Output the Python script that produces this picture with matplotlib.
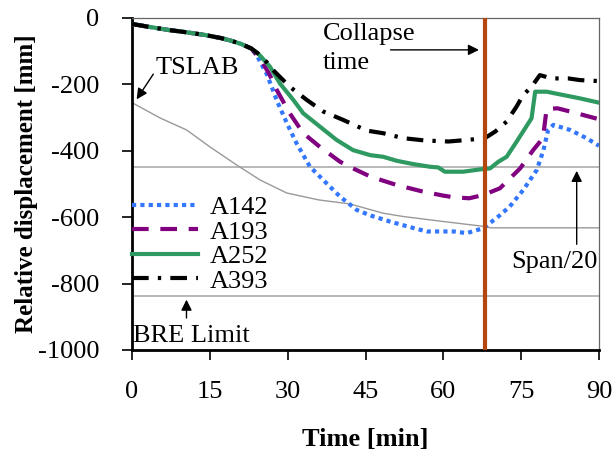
import matplotlib
matplotlib.use("Agg")
import matplotlib.pyplot as plt

plt.rcParams['font.family'] = ['Liberation Serif', 'DejaVu Serif']
plt.rcParams['axes.unicode_minus'] = False

# ---- data ----
t_a142 = [0, 3, 7, 10, 14, 17, 19, 21, 23, 24, 26, 28, 30, 31.7, 34.3, 37.5, 40.1, 43.3, 46, 49.7,
          53.6, 56.8, 60, 62, 64.5, 67.1, 68.3, 70.6, 72.8, 75.4, 78, 79.3, 80.2, 81.2, 84.4, 87.6, 90]
v_a142 = [-18, -26, -36, -42, -51, -60, -68, -78, -92, -111, -170, -252, -322, -377, -448, -498, -538, -578, -595, -613,
          -630, -643, -643, -643, -648, -636, -626, -598, -568, -518, -458, -398, -337, -322, -337, -362, -385]

t_a193 = [0, 3, 7, 10, 14, 17, 19, 21, 23, 25, 26.5, 27.9, 30.4, 33, 36.2, 40.1, 42.6, 46, 51, 56.1,
          60, 62, 65, 67.7, 70.9, 74.8, 77.3, 79.2, 79.9, 82, 85, 90]
v_a193 = [-18, -26, -36, -42, -51, -60, -68, -78, -92, -130, -170, -217, -287, -347, -388, -433, -453, -478, -503, -523,
          -535, -540, -543, -533, -513, -453, -398, -362, -274, -272, -284, -305]

t_a252 = [0, 3, 7, 10, 14, 17, 19, 21, 23, 24.5, 26.6, 28.5, 31.1, 33, 36.2, 39.4, 42.6, 45.9, 48.4, 51,
          54.2, 57.4, 59, 60.3, 63.8, 67.1, 69, 70.6, 72.2, 74.1, 77, 77.7, 79.9, 83.1, 86.3, 90]
v_a252 = [-18, -26, -36, -42, -51, -60, -68, -78, -92, -110, -147, -197, -247, -287, -327, -367, -398, -413, -418, -430,
          -440, -448, -450, -463, -463, -456, -453, -433, -418, -373, -302, -222, -222, -232, -242, -255]

t_a393 = [0, 3, 7, 10, 14, 17, 19, 21, 23, 25, 27.2, 30.4, 33.7, 36.9, 40.7, 45.2, 48.4, 52.3, 56.5, 61,
          64.8, 68, 70, 72.2, 74.1, 75.4, 77, 78.6, 80.9, 84.1, 86.3, 90]
v_a393 = [-18, -26, -36, -42, -51, -60, -68, -78, -92, -115, -157, -207, -247, -282, -307, -339, -347, -362, -369, -372,
          -367, -362, -342, -312, -267, -232, -207, -172, -182, -182, -187, -190]

t_tslab = [0, 5.4, 10.5, 15, 20.2, 24.7, 29.8, 36, 42, 48.4, 52.3, 60, 68, 69, 90]
v_tslab = [-255, -301, -337, -388, -443, -488, -527, -548, -560, -588, -598, -613, -628, -632, -632]

span20 = -450
bre_limit = -838
collapse_time = 68

xticks = [0, 15, 30, 45, 60, 75, 90]
yticks = [0, -200, -400, -600, -800, -1000]

FS = 19

fig = plt.figure(figsize=(6.14, 4.53), dpi=100)
ax = fig.add_axes([132/614, 1-350/453, (599-132)/614, (350-18)/453])

ax.axhline(span20, color='#a6a6a6', lw=1.1, zorder=1)
ax.axhline(bre_limit, color='#a6a6a6', lw=1.1, zorder=1)
ax.plot(t_tslab, v_tslab, color='#999999', lw=1.0, zorder=2)

ax.plot(t_a142, v_a142, color='#3377ff', lw=3, linestyle=(0, (1, 1)), label='A142', zorder=3)
ax.plot(t_a193, v_a193, color='#800080', lw=3, linestyle=(0, (4, 2.8)), label='A193', zorder=3)
ax.plot(t_a252, v_a252, color='#2e9a62', lw=3, linestyle='-', label='A252', zorder=3)
ax.plot(t_a393, v_a393, color='black', lw=3, linestyle=(0, (4, 2.2, 0.8, 2.2)), label='A393', zorder=3)

ax.axvline(collapse_time, color='#b3470f', lw=3, zorder=4)

ax.set_xlim(0, 90)
ax.set_ylim(-1000, 0)
ax.set_xticks(xticks)
ax.set_yticks(yticks)
ax.tick_params(axis='both', direction='out', length=7, width=1.2, labelsize=FS, color='black')
ax.tick_params(axis='y', pad=16.5)
ax.tick_params(axis='x', pad=15)

for s in ['left', 'bottom']:
    ax.spines[s].set_linewidth(2)
    ax.spines[s].set_color('black')
for s in ['top', 'right']:
    ax.spines[s].set_linewidth(0.9)
    ax.spines[s].set_color('#666666')

ax.set_xlabel('Time [min]', fontsize=FS, fontweight='bold', labelpad=18)
ax.set_ylabel('Relative displacement [mm]', fontsize=18, fontweight='bold', labelpad=0)

leg = ax.legend(loc='upper left', bbox_to_anchor=(0.0, 0.465), frameon=False, fontsize=FS,
                handlelength=2.5, handletextpad=0.45, labelspacing=0.04, borderaxespad=0, borderpad=0)

arrow = dict(arrowstyle='-|>', color='black', lw=1, mutation_scale=16)
ax.text(36.8, -92, 'Collapse\ntime', fontsize=FS, ha='left', va='center', linespacing=1.45)
ax.annotate('', xy=(67.4, -96), xytext=(49.3, -96), arrowprops=arrow)

ax.text(4.6, -152, 'TSLAB', fontsize=FS, ha='left', va='center')
ax.annotate('', xy=(0.6, -252), xytext=(4.4, -162), arrowprops=arrow)

ax.text(0.2, -958, 'BRE Limit', fontsize=FS, ha='left', va='center')
ax.annotate('', xy=(10.5, -840), xytext=(10.5, -912), arrowprops=arrow)

ax.text(89.7, -734, 'Span/20', fontsize=FS, ha='right', va='center')
ax.annotate('', xy=(85.7, -452), xytext=(85.7, -690), arrowprops=arrow)

fig.savefig('out.png', dpi=100)
